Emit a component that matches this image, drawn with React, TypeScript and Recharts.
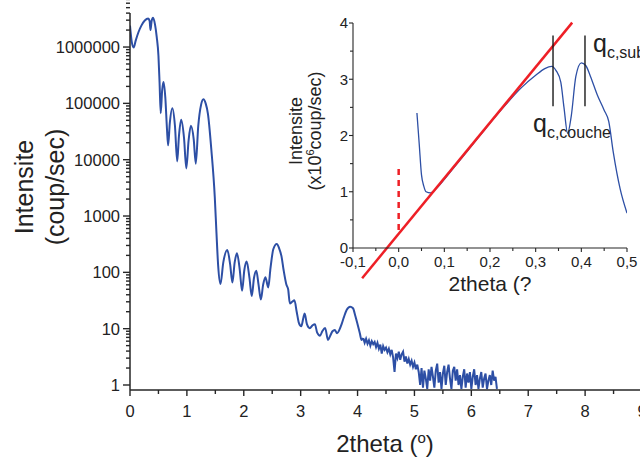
import React from "react";
import { LineChart, Line, XAxis, YAxis, ReferenceLine } from "recharts";

const FONT = "'Liberation Sans', Arial, Helvetica, sans-serif";
const AXIS = "#262626";
const TEXT = "#222222";
const BLUE = "#2d4fa5";
const RED = "#ee1f26";

// ---- main curve: 2theta (deg) vs intensity (coup/sec), smooth fringe region
const fringes: [number, number][] = [
  [0, 2.4e6], [0.03, 1.25e6], [0.065, 9.8e5], [0.1, 1.3e6], [0.15, 1.85e6], [0.2, 2.4e6],
  [0.26, 2.95e6], [0.32, 3.2e6], [0.345, 2.9e6], [0.36, 2.0e6], [0.38, 2.9e6], [0.405, 3.3e6],
  [0.44, 2.5e6], [0.47, 1.5e6], [0.5, 7e5], [0.52, 2.3e5], [0.54, 6.7e4], [0.565, 1.7e5],
  [0.59, 2.4e5], [0.62, 1.3e5], [0.65, 3.5e4], [0.67, 1.8e4], [0.7, 4.5e4], [0.745, 8.2e4],
  [0.79, 4e4], [0.83, 9.3e3], [0.86, 2.6e4], [0.9, 5.1e4], [0.95, 2.4e4], [0.99, 7e3],
  [1.03, 2.2e4], [1.07, 4e4], [1.12, 2.3e4], [1.156, 8.5e3], [1.2, 4e4], [1.25, 9.5e4],
  [1.29, 1.18e5], [1.33, 1e5], [1.37, 6.5e4], [1.43, 1.5e4], [1.49, 2.2e3], [1.52, 500],
  [1.55, 130], [1.59, 62], [1.64, 150], [1.71, 250], [1.76, 140], [1.8, 66], [1.84, 150],
  [1.88, 219], [1.93, 110], [1.97, 47], [2.01, 110], [2.05, 155], [2.1, 80], [2.14, 38],
  [2.18, 80], [2.22, 107], [2.26, 60], [2.3, 33], [2.34, 60], [2.38, 82], [2.43, 54],
  [2.47, 120], [2.52, 260], [2.58, 318], [2.62, 270], [2.664, 190], [2.7, 110], [2.75, 60],
  [2.78, 50], [2.81, 28], [2.85, 30], [2.89, 32], [2.93, 20], [2.97, 12.5], [3.01, 11],
  [3.05, 16], [3.07, 18.6], [3.11, 12], [3.16, 10.2], [3.21, 11.5], [3.25, 12], [3.29, 8.5],
  [3.34, 7.5], [3.38, 9], [3.43, 10.3], [3.48, 6.3], [3.52, 7.5], [3.56, 9], [3.6, 9.5],
  [3.64, 8.3], [3.68, 9.5], [3.72, 12], [3.76, 16], [3.81, 21.6], [3.87, 24.5], [3.92, 23],
  [3.96, 17], [4.0, 12], [4.04, 8.3], [4.07, 6.3], [4.1, 6.8],
];

// ---- main curve: noisy tail
const tail: [number, number][] = [
  [4.1, 6.8], [4.125, 5.6], [4.15, 6.6], [4.175, 5.4], [4.2, 6.2], [4.225, 5.0], [4.25, 6.0],
  [4.275, 5.3], [4.3, 5.8], [4.325, 4.7], [4.35, 5.6], [4.375, 4.4], [4.4, 5.2], [4.425, 3.6],
  [4.45, 4.9], [4.475, 4.2], [4.5, 4.6], [4.525, 3.8], [4.55, 4.4], [4.575, 3.5], [4.6, 4.2],
  [4.625, 3.1], [4.65, 1.7], [4.675, 3.6], [4.7, 3.0], [4.725, 3.9], [4.75, 2.8], [4.775, 3.5],
  [4.8, 3.9], [4.825, 2.6], [4.85, 3.2], [4.875, 2.4], [4.9, 2.9], [4.925, 2.3], [4.95, 2.7],
  [4.975, 2.1], [5.0, 2.5], [5.025, 1.9], [5.05, 2.3], [5.075, 1.7], [5.1, 1.0], [5.125, 2.0],
  [5.15, 0.9], [5.175, 1.8], [5.2, 1.3], [5.225, 0.85], [5.25, 1.9], [5.275, 1.2], [5.3, 2.1],
  [5.325, 1.4], [5.35, 0.9], [5.375, 1.8], [5.4, 2.4], [5.425, 1.1], [5.45, 1.7], [5.475, 0.85],
  [5.5, 1.6], [5.525, 2.2], [5.55, 1.0], [5.575, 1.7], [5.6, 2.3], [5.625, 1.3], [5.65, 0.85],
  [5.675, 1.8], [5.7, 2.1], [5.725, 1.2], [5.75, 1.9], [5.775, 1.0], [5.8, 1.5], [5.825, 0.85],
  [5.85, 1.4], [5.875, 1.9], [5.9, 0.9], [5.925, 1.6], [5.95, 1.1], [5.975, 1.7], [6.0, 0.85],
  [6.025, 1.4], [6.05, 1.9], [6.075, 1.0], [6.1, 1.5], [6.125, 0.85], [6.15, 1.3], [6.175, 1.7],
  [6.2, 0.9], [6.225, 1.3], [6.25, 1.6], [6.275, 0.85], [6.3, 1.2], [6.325, 1.5], [6.35, 1.0],
  [6.375, 1.8], [6.4, 1.2], [6.425, 1.4], [6.45, 0.85],
];

// ---- inset curve: 2theta vs intensity (x10^6 coup/sec)
const insetCurve: [number, number][] = [
  [0.04, 2.4], [0.045, 1.85], [0.05, 1.3], [0.055, 1.1], [0.06, 1.0], [0.07, 0.98], [0.08, 1.04],
  [0.1, 1.22], [0.12, 1.42], [0.15, 1.72], [0.18, 2.02], [0.21, 2.32], [0.24, 2.6], [0.27, 2.86],
  [0.3, 3.07], [0.32, 3.19], [0.335, 3.23], [0.345, 3.15], [0.355, 2.95], [0.362, 2.5],
  [0.37, 2.04], [0.378, 2.35], [0.388, 3.05], [0.4, 3.29], [0.41, 3.24], [0.42, 3.05],
  [0.435, 2.72], [0.45, 2.45], [0.46, 2.25], [0.47, 1.7], [0.485, 1.05], [0.5, 0.62],
];
const fitLine: [number, number][] = [[-0.08, -0.537], [0.38, 4.007]];
const zeroMarker: [number, number][] = [[0, 0.32], [0, 1.48]];
const qPositions = [0.338, 0.408];
const qMarkerRange = [2.52, 3.78];

// ---- ticks
const mainXTicks = [0, 0.5, 1, 1.5, 2, 2.5, 3, 3.5, 4, 4.5, 5, 5.5, 6, 6.5, 7, 7.5, 8, 8.5, 9];
const mainYDecades = [1, 10, 100, 1000, 10000, 100000, 1000000];
const minorMultipliers = [1, 2, 3, 4, 5, 6, 7, 8, 9];
const mainYTicks = mainYDecades.flatMap((d) => minorMultipliers.map((m) => m * d));
const insetXTicks = [-0.1, -0.05, 0, 0.05, 0.1, 0.15, 0.2, 0.25, 0.3, 0.35, 0.4, 0.45, 0.5];
const insetYTicks = [0, 0.5, 1, 1.5, 2, 2.5, 3, 3.5, 4];

const toRows = (pts: [number, number][]) => pts.map(([x, y]) => ({ x, y }));
const fringeRows = toRows(fringes);
const tailRows = toRows(tail);
const insetRows = toRows(insetCurve);

const isDecade = (v: number) => Math.abs(Math.log10(v) - Math.round(Math.log10(v))) < 1e-9;
const isInt = (v: number) => Math.abs(v - Math.round(v)) < 1e-9;
const isTenth = (v: number) => Math.abs(v * 10 - Math.round(v * 10)) < 1e-6;

type Side = "bottom" | "top" | "left" | "right";
function makeTick(o: {
  side: Side;
  major: (v: number) => boolean;
  label?: (v: number) => string;
  majorLen: number;
  minorLen: number;
  fontSize?: number;
  gap?: number;
  width?: number;
}) {
  return (props: any) => {
    const x = props.x as number;
    const y = props.y as number;
    const v = props.payload.value as number;
    const maj = o.major(v);
    const len = maj ? o.majorLen : o.minorLen;
    const w = o.width ?? 1.4;
    const lbl = maj && o.label ? o.label(v) : null;
    let line: React.ReactNode = null;
    let text: React.ReactNode = null;
    if (o.side === "bottom") {
      line = <line x1={x} y1={y} x2={x} y2={y + len} stroke={AXIS} strokeWidth={w} />;
      if (lbl !== null)
        text = (
          <text x={x} y={y + (o.gap ?? 20)} textAnchor="middle" fontSize={o.fontSize} fontFamily={FONT} fill={TEXT}>
            {lbl}
          </text>
        );
    } else if (o.side === "top") {
      line = <line x1={x} y1={y} x2={x} y2={y + len} stroke={AXIS} strokeWidth={w} />;
    } else if (o.side === "left") {
      line = <line x1={x} y1={y} x2={x - len} y2={y} stroke={AXIS} strokeWidth={w} />;
      if (lbl !== null)
        text = (
          <text x={x - (o.gap ?? 10)} y={y} dy="0.36em" textAnchor="end" fontSize={o.fontSize} fontFamily={FONT} fill={TEXT}>
            {lbl}
          </text>
        );
    } else {
      line = <line x1={x} y1={y} x2={x - len} y2={y} stroke={AXIS} strokeWidth={w} />;
    }
    return (
      <g>
        {line}
        {text}
      </g>
    );
  };
}

const mainBottomTick = makeTick({ side: "bottom", major: isInt, label: (v) => String(v), majorLen: 6, minorLen: 4, fontSize: 16.5, gap: 27 });
const mainTopTick = makeTick({ side: "top", major: isInt, majorLen: 6, minorLen: 3.5 });
const mainLeftTick = makeTick({ side: "left", major: isDecade, label: (v) => String(v), majorLen: 7, minorLen: 4, fontSize: 16.5, gap: 10 });
const mainRightTick = makeTick({ side: "right", major: isDecade, majorLen: 6, minorLen: 3.5 });
const insetBottomTick = makeTick({
  side: "bottom",
  major: isTenth,
  label: (v) => v.toFixed(1).replace(".", ","),
  majorLen: 4,
  minorLen: 3,
  fontSize: 15,
  gap: 18.5,
  width: 1.1,
});
const insetLeftTick = makeTick({ side: "left", major: isInt, label: (v) => String(v), majorLen: 4, minorLen: 3, fontSize: 15, gap: 5, width: 1.1 });

const axisLine = { stroke: AXIS, strokeWidth: 1.5 };
const insetAxisLine = { stroke: AXIS, strokeWidth: 1.1 };

export default function App() {
  return (
    <div style={{ position: "absolute", left: 0, top: 0, width: 640, height: 460, overflow: "hidden", background: "#fff" }}>
      <div style={{ position: "absolute", left: 0, top: 0 }}>
        <LineChart width={680} height={460} margin={{ top: 13, right: 38, bottom: 0, left: 0 }}>
          <XAxis
            xAxisId="b"
            type="number"
            dataKey="x"
            domain={[0, 9]}
            allowDataOverflow
            ticks={mainXTicks}
            interval={0}
            height={70}
            tickSize={0}
            tickMargin={0}
            tickLine={false}
            axisLine={axisLine}
            tick={mainBottomTick}
          />
          <XAxis
            xAxisId="t"
            orientation="top"
            mirror
            type="number"
            dataKey="x"
            domain={[0, 9]}
            allowDataOverflow
            ticks={mainXTicks}
            interval={0}
            height={0}
            tickSize={0}
            tickMargin={0}
            tickLine={false}
            axisLine={axisLine}
            tick={mainTopTick}
          />
          <YAxis
            yAxisId="l"
            type="number"
            scale="log"
            domain={[0.815, 4.02e6]}
            allowDataOverflow
            ticks={mainYTicks}
            interval={0}
            width={130}
            tickSize={0}
            tickMargin={0}
            tickLine={false}
            axisLine={axisLine}
            tick={mainLeftTick}
          />
          <YAxis
            yAxisId="r"
            orientation="right"
            mirror
            type="number"
            scale="log"
            domain={[0.815, 4.02e6]}
            allowDataOverflow
            ticks={mainYTicks}
            interval={0}
            width={0}
            tickSize={0}
            tickMargin={0}
            tickLine={false}
            axisLine={axisLine}
            tick={mainRightTick}
          />
          <Line
            xAxisId="b"
            yAxisId="l"
            data={fringeRows}
            dataKey="y"
            type="monotone"
            stroke={BLUE}
            strokeWidth={2}
            dot={false}
            activeDot={false}
            isAnimationActive={false}
          />
          <Line
            xAxisId="b"
            yAxisId="l"
            data={tailRows}
            dataKey="y"
            type="linear"
            stroke={BLUE}
            strokeWidth={2}
            dot={false}
            activeDot={false}
            isAnimationActive={false}
          />
        </LineChart>
      </div>

      <div style={{ position: "absolute", left: 270, top: 10 }}>
        <LineChart width={370} height={290} margin={{ top: 13, right: 13, bottom: 0, left: 0 }}>
          <XAxis
            type="number"
            dataKey="x"
            domain={[-0.1, 0.5]}
            allowDataOverflow
            ticks={insetXTicks}
            interval={0}
            height={52}
            tickSize={0}
            tickMargin={0}
            tickLine={false}
            axisLine={insetAxisLine}
            tick={insetBottomTick}
          />
          <YAxis
            type="number"
            domain={[0, 4]}
            allowDataOverflow
            ticks={insetYTicks}
            interval={0}
            width={83}
            tickSize={0}
            tickMargin={0}
            tickLine={false}
            axisLine={insetAxisLine}
            tick={insetLeftTick}
          />
          <Line
            data={insetRows}
            dataKey="y"
            type="monotone"
            stroke={BLUE}
            strokeWidth={1.3}
            dot={false}
            activeDot={false}
            isAnimationActive={false}
          />
          <ReferenceLine
            segment={[
              { x: zeroMarker[0][0], y: zeroMarker[0][1] },
              { x: zeroMarker[1][0], y: zeroMarker[1][1] },
            ]}
            ifOverflow="visible"
            stroke={RED}
            strokeWidth={2.5}
            strokeDasharray="6 5"
          />
          <ReferenceLine
            segment={[
              { x: fitLine[0][0], y: fitLine[0][1] },
              { x: fitLine[1][0], y: fitLine[1][1] },
            ]}
            ifOverflow="visible"
            stroke={RED}
            strokeWidth={2.5}
          />
          {qPositions.map((q) => (
            <ReferenceLine
              key={q}
              segment={[
                { x: q, y: qMarkerRange[0] },
                { x: q, y: qMarkerRange[1] },
              ]}
              ifOverflow="visible"
              stroke="#1a1a1a"
              strokeWidth={1.4}
            />
          ))}
        </LineChart>
      </div>

      <svg width={640} height={460} style={{ position: "absolute", left: 0, top: 0, pointerEvents: "none" }}>
        <g fontFamily={FONT} fill={TEXT}>
          {/* main axis titles */}
          <text transform="translate(33,187) rotate(-90)" textAnchor="middle" fontSize={25}>
            Intensite
          </text>
          <text transform="translate(64,187) rotate(-90)" textAnchor="middle" fontSize={25}>
            (coup/sec)
          </text>
          <text x={385} y={452} textAnchor="middle" fontSize={24}>
            2theta (
            <tspan dy={-9} fontSize={15}>
              o
            </tspan>
            <tspan dy={9}>)</tspan>
          </text>

          {/* inset axis titles */}
          <text transform="translate(301.5,131) rotate(-90)" textAnchor="middle" fontSize={18}>
            Intensite
          </text>
          <text transform="translate(321,131) rotate(-90)" textAnchor="middle" fontSize={18}>
            (x10
            <tspan dy={-7} fontSize={11}>
              6
            </tspan>
            <tspan dy={7}>coup/sec)</tspan>
          </text>
          <text x={490} y={291} textAnchor="middle" fontSize={21}>
            2theta (?
          </text>

          {/* critical angle annotations */}
          <text x={593} y={51.5} fontSize={25}>
            q
            <tspan dy={6.5} fontSize={16}>
              c,sub
            </tspan>
          </text>
          <text x={533} y={131.5} fontSize={25}>
            q
            <tspan dy={6.5} fontSize={16}>
              c,couche
            </tspan>
          </text>
        </g>
      </svg>
    </div>
  );
}
